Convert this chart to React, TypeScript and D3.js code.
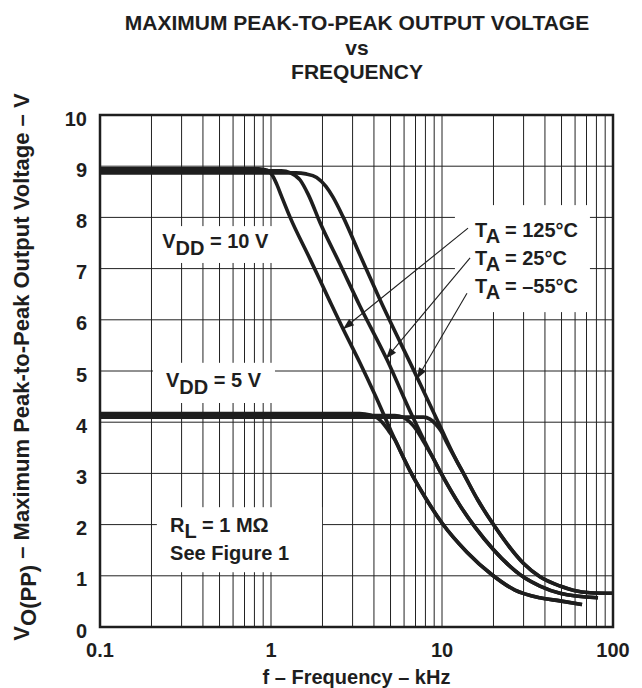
import React from 'react';
import * as d3 from 'd3';

type Pt = [number, number];

// ---- data ----
const yTickValues = [0, 1, 2, 3, 4, 5, 6, 7, 8, 9, 10];
const xTickValues = [0.1, 1, 10, 100];
const xTickLabels = ['0.1', '1', '10', '100'];
const gridDecades = [0.1, 1, 10];
const gridMultipliers = [1, 2, 3, 4, 5, 6, 7, 8, 9];

const curve125_10V: Pt[] = [
  [0.1, 8.95], [0.85, 8.95], [0.95, 8.92], [1.02, 8.82], [1.08, 8.65], [1.15, 8.42], [1.29, 8.01],
  [1.69, 7.19], [2.21, 6.36], [2.64, 5.82], [3.3, 5.17], [4.06, 4.53], [5.0, 3.85], [5.91, 3.33],
  [6.5, 3.05], [7.95, 2.54], [10, 2.03], [14, 1.46], [19.6, 1.02], [26.7, 0.72], [37.4, 0.57],
  [49, 0.51], [65.9, 0.44],
];
const curve125_5V: Pt[] = [
  [0.1, 4.17], [3.3, 4.17], [3.8, 4.14], [4.2, 4.08], [4.52, 3.98], [4.9, 3.82], [5.3, 3.66],
  [5.91, 3.33], [6.5, 3.05], [7.95, 2.54], [10, 2.03], [14, 1.46], [19.6, 1.02], [26.7, 0.72],
  [37.4, 0.57], [49, 0.51], [65.9, 0.44],
];
const curve25_10V: Pt[] = [
  [0.1, 8.91], [1.15, 8.91], [1.3, 8.87], [1.48, 8.73], [1.65, 8.45], [1.94, 7.89], [2.53, 7.09],
  [3.31, 6.27], [4.77, 5.22], [6.66, 4.14], [8.74, 3.34], [10, 2.97], [12.7, 2.38], [15.6, 1.95],
  [19.9, 1.52], [29.8, 0.98], [37.4, 0.8], [49, 0.66], [81.7, 0.57],
];
const curve25_5V: Pt[] = [
  [0.1, 4.13], [5.3, 4.13], [5.9, 4.1], [6.5, 4.0], [7.1, 3.85], [7.8, 3.62], [8.74, 3.34],
  [10, 2.97], [12.7, 2.38], [15.6, 1.95], [19.9, 1.52], [29.8, 0.98], [37.4, 0.8], [49, 0.66],
  [81.7, 0.57],
];
const curveM55_10V: Pt[] = [
  [0.1, 8.87], [1.4, 8.87], [1.6, 8.85], [1.85, 8.78], [2.1, 8.6], [2.3, 8.4], [2.64, 8.01],
  [3.31, 7.27], [4.3, 6.42], [7.14, 4.88], [9.72, 3.93], [12.2, 3.24], [13.3, 3.01], [16.2, 2.48],
  [19.9, 2.01], [29.8, 1.25], [37.4, 0.98], [49, 0.8], [58.4, 0.72], [73.3, 0.67], [100, 0.66],
];
const curveM55_5V: Pt[] = [
  [0.1, 4.1], [7.8, 4.1], [8.5, 4.06], [9.2, 3.96], [9.9, 3.82], [10.6, 3.62], [12.2, 3.24],
  [13.3, 3.01], [16.2, 2.48], [19.9, 2.01], [29.8, 1.25], [37.4, 0.98], [49, 0.8], [58.4, 0.72],
  [73.3, 0.67], [100, 0.66],
];
const allCurves = [curve125_10V, curve125_5V, curve25_10V, curve25_5V, curveM55_10V, curveM55_5V];

// annotation arrows: [from, to] in data units (kHz, V)
const arrows: [Pt, Pt][] = [
  [[14.2, 7.79], [2.64, 5.82]],
  [[14.6, 7.21], [4.7, 5.24]],
  [[14.0, 6.52], [7.14, 4.85]],
];
// white label boxes: [f0, f1, v0, v1]
const labelBoxes: [number, number, number, number][] = [
  [0.218, 1.129, 7.11, 7.83],
  [0.204, 1.055, 4.375, 5.16],
  [11.9, 73.3, 6.15, 8.24],
  [0.215, 1.99, 1.07, 2.34],
];

const W = 642;
const H = 688;
const FONT = '"Liberation Sans", Arial, Helvetica, sans-serif';

export default function App() {
  const x = d3.scaleLog().domain([0.1, 100]).range([100, 613]);
  const y = d3.scaleLinear().domain([0, 10]).range([627, 115]);
  const line = d3
    .line<Pt>()
    .x((d) => x(d[0]))
    .y((d) => y(d[1]))
    .curve(d3.curveMonotoneX);

  const gridX: number[] = [];
  gridDecades.forEach((d) => gridMultipliers.forEach((m) => gridX.push(d * m)));
  gridX.push(100);

  const arrowHead = (from: Pt, to: Pt) => {
    const x1 = x(from[0]), y1 = y(from[1]), x2 = x(to[0]), y2 = y(to[1]);
    const ang = Math.atan2(y2 - y1, x2 - x1);
    const L = 11, Wd = 4;
    const bx = x2 - L * Math.cos(ang), by = y2 - L * Math.sin(ang);
    const px = -Math.sin(ang) * Wd, py = Math.cos(ang) * Wd;
    return `M${x2},${y2}L${bx + px},${by + py}L${bx - px},${by - py}Z`;
  };

  const fs = 20;
  const ink = '#1e1e1e';

  return (
    <svg width={W} height={H} style={{ position: 'absolute', left: 0, top: 0, background: '#fff' }} fontFamily={FONT} fontWeight="bold">
      <rect x={0} y={0} width={W} height={H} fill="#fff" />
      {/* title */}
      <g textAnchor="middle" fontSize={21} fill={ink}>
        <text x={357} y={30}>MAXIMUM PEAK-TO-PEAK OUTPUT VOLTAGE</text>
        <text x={357} y={54.5}>vs</text>
        <text x={357} y={79}>FREQUENCY</text>
      </g>
      {/* grid */}
      <g stroke="#222" strokeWidth={1}>
        {gridX.map((v, i) => (
          <line key={'gx' + i} x1={x(v)} x2={x(v)} y1={y(0)} y2={y(10)} />
        ))}
        {yTickValues.map((v) => (
          <line key={'gy' + v} x1={x(0.1)} x2={x(100)} y1={y(v)} y2={y(v)} />
        ))}
      </g>
      {/* white label boxes */}
      {labelBoxes.map((b, i) => (
        <rect key={'lb' + i} x={x(b[0])} y={y(b[3])} width={x(b[1]) - x(b[0])} height={y(b[2]) - y(b[3])} fill="#fff" />
      ))}
      {/* frame */}
      <rect x={x(0.1)} y={y(10)} width={x(100) - x(0.1)} height={y(0) - y(10)} fill="none" stroke={ink} strokeWidth={2.5} />
      {/* curves */}
      <g fill="none" stroke={ink} strokeWidth={3.6} strokeLinejoin="round" strokeLinecap="butt">
        {allCurves.map((c, i) => (
          <path key={'c' + i} d={line(c) || ''} />
        ))}
      </g>
      {/* arrows */}
      <g stroke={ink} strokeWidth={1.1} fill={ink}>
        {arrows.map(([f, t], i) => (
          <g key={'a' + i}>
            <line x1={x(f[0])} y1={y(f[1])} x2={x(t[0])} y2={y(t[1])} />
            <path d={arrowHead(f, t)} stroke="none" />
          </g>
        ))}
      </g>
      {/* y tick labels */}
      <g textAnchor="end" fontSize={fs} fill={ink}>
        {yTickValues.map((v) => (
          <text key={'yt' + v} x={87} y={y(v) + 10.5}>{v}</text>
        ))}
      </g>
      {/* x tick labels */}
      <g textAnchor="middle" fontSize={fs} fill={ink}>
        {xTickValues.map((v, i) => (
          <text key={'xt' + v} x={x(v)} y={657}>{xTickLabels[i]}</text>
        ))}
      </g>
      {/* axis titles */}
      <text x={x(0.1) + (x(100) - x(0.1)) / 2} y={684} textAnchor="middle" fontSize={fs} fill={ink}>f – Frequency – kHz</text>
      <text transform={`translate(29,${(y(0) + y(10)) / 2 - 4}) rotate(-90)`} textAnchor="middle" fontSize={22} fill={ink}>
        V<tspan dy={7}>O(PP)</tspan><tspan dy={-7}> – Maximum Peak-to-Peak Output Voltage – V</tspan>
      </text>
      {/* annotations */}
      <g fontSize={fs} fill={ink}>
        <text x={x(0.231)} y={y(7.4)}>V<tspan dy={7}>DD</tspan><tspan dy={-7}> = 10 V</tspan></text>
        <text x={x(0.243)} y={y(4.69)}>V<tspan dy={7}>DD</tspan><tspan dy={-7}> = 5 V</tspan></text>
        <text x={x(15.6)} y={y(7.62)}>T<tspan dy={6}>A</tspan><tspan dy={-6}> = 125°C</tspan></text>
        <text x={x(15.6)} y={y(7.07)}>T<tspan dy={6}>A</tspan><tspan dy={-6}> = 25°C</tspan></text>
        <text x={x(15.6)} y={y(6.52)}>T<tspan dy={6}>A</tspan><tspan dy={-6}> = –55°C</tspan></text>
        <text x={x(0.257)} y={y(1.86)}>R<tspan dy={6}>L</tspan><tspan dy={-6}> = 1 MΩ</tspan></text>
        <text x={x(0.257)} y={y(1.31)}>See Figure 1</text>
      </g>
    </svg>
  );
}
